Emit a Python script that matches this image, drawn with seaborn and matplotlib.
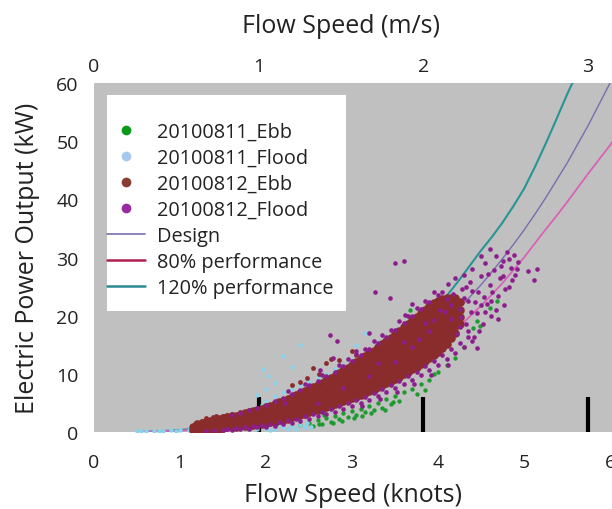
import matplotlib
matplotlib.use("Agg")
import matplotlib.pyplot as plt
from matplotlib.lines import Line2D
from matplotlib.patches import Rectangle
import pandas as pd
import seaborn as sns

sns.set_style("white")
plt.rcParams["font.family"] = ["Open Sans", "DejaVu Sans"]

# ---- measured points: flow speed (knots), electric power (kW) ----
ebb_0811 = [
    (2.40, 1.2), (2.50, 1.6), (2.55, 1.0), (2.60, 2.0), (2.65, 1.4), (2.70, 2.4),
    (2.75, 1.8), (2.80, 2.8), (2.85, 2.2), (2.90, 3.2), (2.95, 2.6), (3.00, 3.6),
    (3.05, 2.9), (3.10, 4.0), (3.15, 3.4), (3.20, 4.5), (3.25, 3.8), (3.30, 5.0),
    (3.35, 4.2), (3.40, 5.6), (3.45, 4.8), (3.50, 6.2), (3.55, 5.4), (3.60, 6.8),
    (3.70, 7.4), (3.75, 6.6), (3.80, 8.2), (3.90, 9.0), (4.00, 10.4), (4.10, 11.6),
    (4.20, 12.8), (4.30, 14.6), (4.41, 17.8), (4.45, 19.0), (4.49, 18.2), (4.60, 21.4),
    (4.69, 22.6), (3.67, 21.0), (3.30, 9.0), (3.60, 12.0), (2.90, 6.0), (2.62, 1.3),
    (2.78, 1.5), (3.02, 2.4), (3.22, 3.3), (3.85, 7.2), (3.95, 10.0), (2.68, 3.0),
    (2.88, 1.9), (3.12, 2.7), (3.38, 3.7), (3.48, 5.2),
]

flood_0811 = [
    (0.50, 0.1), (0.60, 0.15), (0.70, 0.2), (0.80, 0.2), (0.90, 0.3), (1.00, 0.3),
    (1.10, 0.4), (1.20, 0.3), (1.30, 0.5), (1.40, 0.4), (1.50, 0.6), (1.60, 0.5),
    (1.70, 0.7), (1.80, 0.6), (1.90, 0.5), (2.00, 0.7), (2.10, 0.6), (2.20, 0.9),
    (2.30, 1.0), (2.40, 1.2), (2.35, 0.6), (2.45, 0.9), (1.95, 1.0), (2.05, 0.4),
    (2.15, 1.3), (2.25, 0.5), (0.55, 0.2), (0.75, 0.1), (0.95, 0.2), (1.15, 0.2),
    (1.75, 3.4), (1.85, 4.0), (1.95, 4.7), (2.00, 5.4), (2.05, 4.4), (2.10, 6.2),
    (2.15, 5.0), (2.20, 6.8), (2.25, 5.6), (2.30, 7.4), (2.35, 6.2), (2.40, 8.0),
    (2.45, 6.8), (2.50, 8.8), (2.55, 7.4), (2.60, 9.4), (2.70, 10.0), (2.80, 10.8),
    (2.90, 11.6), (3.00, 12.4), (3.10, 13.2), (3.20, 14.0), (3.30, 15.4), (3.40, 16.4),
    (3.50, 17.6), (3.64, 19.0), (1.97, 10.8), (2.02, 9.6), (2.30, 11.2), (2.10, 8.4),
    (2.20, 13.0), (2.40, 15.0), (3.05, 15.0), (3.15, 17.0), (1.90, 6.4), (2.00, 7.4),
    (2.12, 3.2), (2.28, 2.6), (2.38, 2.0), (2.48, 1.6), (2.52, 0.8),
]

# dense core of the 20100812 ebb run: speed column -> power readings
ebb_0812_columns = [
    (1.15, [0.4, 0.9]), (1.20, [0.4, 0.9, 1.3]), (1.25, [0.5, 1.0, 1.5]),
    (1.30, [0.5, 1.1, 1.7]), (1.35, [0.5, 1.2, 1.9]), (1.40, [0.6, 1.3, 2.1]),
    (1.45, [0.6, 1.4, 2.2]), (1.50, [0.7, 1.5, 2.4]), (1.55, [0.8, 1.6, 2.5]),
    (1.60, [0.9, 1.7, 2.7]), (1.65, [0.9, 1.8, 2.8]), (1.70, [1.0, 1.9, 3.0]),
    (1.75, [1.0, 1.9, 2.6, 3.2]), (1.80, [1.1, 2.0, 2.8, 3.4]),
    (1.85, [1.2, 2.1, 2.9, 3.6]), (1.90, [1.3, 2.2, 3.0, 3.8]),
    (1.95, [1.4, 2.3, 3.2, 4.0]), (2.00, [1.5, 2.4, 3.4, 4.3]),
    (2.05, [1.7, 2.6, 3.6, 4.5]), (2.10, [1.8, 2.8, 3.8, 4.8]),
    (2.15, [2.0, 3.0, 4.0, 5.1]), (2.20, [2.1, 3.1, 4.2, 5.4]),
    (2.25, [2.3, 3.3, 4.4, 5.7]), (2.30, [2.5, 3.5, 4.7, 6.0]),
    (2.35, [2.7, 3.7, 4.8, 5.6, 6.3]), (2.40, [2.9, 3.9, 5.0, 5.9, 6.7]),
    (2.45, [3.1, 4.1, 5.2, 6.2, 7.0]), (2.50, [3.4, 4.4, 5.4, 6.4, 7.4]),
    (2.55, [3.6, 4.6, 5.7, 6.7, 7.7]), (2.60, [3.8, 4.8, 5.9, 7.0, 8.1]),
    (2.65, [4.0, 5.1, 6.2, 7.3, 8.4]), (2.70, [4.3, 5.3, 6.4, 7.6, 8.9]),
    (2.75, [4.5, 5.6, 6.7, 7.8, 8.6, 9.3]), (2.80, [4.8, 5.8, 6.9, 8.0, 8.9, 9.7]),
    (2.85, [5.0, 6.1, 7.2, 8.3, 9.3, 10.1]), (2.90, [5.3, 6.4, 7.5, 8.6, 9.6, 10.6]),
    (2.95, [5.5, 6.6, 7.8, 8.9, 10.0, 11.0]), (3.00, [5.8, 6.9, 8.1, 9.2, 10.4, 11.5]),
    (3.05, [6.1, 7.2, 8.4, 9.6, 10.8, 12.0]), (3.10, [6.4, 7.5, 8.7, 9.9, 11.2, 12.5]),
    (3.15, [6.7, 7.8, 9.0, 10.2, 11.4, 12.4, 13.0]),
    (3.20, [7.0, 8.1, 9.3, 10.5, 11.7, 12.8, 13.5]),
    (3.25, [7.3, 8.5, 9.7, 10.9, 12.0, 13.1, 14.0]),
    (3.30, [7.7, 8.9, 10.1, 11.3, 12.4, 13.6, 14.6]),
    (3.35, [8.0, 9.2, 10.4, 11.7, 12.9, 14.1, 15.1]),
    (3.40, [8.4, 9.6, 10.8, 12.1, 13.3, 14.5, 15.7]),
    (3.45, [8.7, 10.0, 11.2, 12.5, 13.8, 15.0, 16.2]),
    (3.50, [9.1, 10.3, 11.6, 12.9, 14.2, 15.5, 16.8]),
    (3.55, [9.5, 10.7, 12.0, 13.3, 14.6, 15.9, 16.7, 17.4]),
    (3.60, [9.9, 11.1, 12.4, 13.7, 15.0, 16.3, 17.2, 18.0]),
    (3.65, [10.3, 11.6, 12.8, 14.1, 15.4, 16.7, 17.7, 18.6]),
    (3.70, [10.8, 12.0, 13.3, 14.6, 15.9, 17.1, 18.2, 19.2]),
    (3.75, [11.2, 12.5, 13.8, 15.0, 16.3, 17.6, 18.7, 19.8]),
    (3.80, [11.7, 13.0, 14.3, 15.5, 16.8, 18.0, 19.2, 20.4]),
    (3.85, [12.2, 13.5, 14.8, 16.0, 17.3, 18.5, 19.8, 21.0]),
    (3.90, [12.7, 14.0, 15.3, 16.5, 17.8, 19.0, 20.3, 21.6]),
    (3.95, [13.3, 14.6, 15.8, 17.1, 18.3, 19.6, 20.9, 22.1]),
    (4.00, [13.8, 15.1, 16.3, 17.6, 18.8, 20.1, 21.4, 22.6]),
    (4.05, [14.5, 15.8, 17.0, 18.2, 19.4, 20.6, 21.8, 22.8]),
    (4.10, [15.2, 16.5, 17.7, 18.9, 20.1, 21.3, 22.3, 23.0]),
    (4.15, [16.1, 17.4, 18.6, 19.8, 21.0, 22.1, 23.1]),
    (4.20, [17.0, 18.3, 19.5, 20.7, 21.9, 23.0]),
    (4.25, [18.6, 19.8, 21.0, 22.3]),
]
# scattered ebb readings away from the core
ebb_0812_extra = [
    (1.30, 2.4), (1.50, 2.8), (2.55, 11.0), (2.70, 11.8), (2.85, 12.3), (3.05, 13.2),
    (2.30, 8.0), (1.25, 1.9), (1.60, 3.1), (1.42, 2.7), (2.48, 9.2), (2.62, 10.0),
    (1.38, 2.5), (1.55, 3.0), (1.70, 3.5), (2.40, 8.6), (2.75, 12.5), (3.00, 14.0),
]

flood_0812 = [
    # lower edge of the cloud
    (1.30, 0.2), (1.40, 0.3), (1.50, 0.3), (1.60, 0.4), (1.70, 0.5), (1.80, 0.6),
    (1.90, 0.8), (2.00, 0.9), (2.10, 1.1), (2.20, 1.3), (2.30, 1.6), (2.40, 1.9),
    (2.50, 2.3), (2.60, 2.7), (2.70, 3.1), (2.80, 3.5), (2.90, 4.0), (3.00, 4.5),
    (3.10, 5.0), (3.20, 5.5), (3.30, 6.2), (3.40, 6.8), (3.50, 7.5), (3.60, 8.2),
    (3.70, 9.0), (3.80, 9.8), (3.90, 10.6), (4.00, 11.6), (4.10, 12.6), (4.20, 13.6),
    (4.30, 14.6), (4.40, 15.6),
    (1.55, 0.6), (1.65, 0.7), (1.75, 0.8), (1.85, 1.0), (1.95, 1.2), (2.05, 1.4),
    (2.15, 1.7), (2.25, 2.0), (2.35, 2.3), (2.45, 2.7), (2.55, 3.1), (2.65, 3.5),
    (2.75, 4.0), (2.85, 4.5), (2.95, 5.0), (3.05, 5.5), (3.15, 6.0), (3.25, 6.7),
    (3.35, 7.4), (3.45, 8.1), (3.55, 8.8), (3.65, 9.6), (3.75, 10.4), (3.85, 11.3),
    (3.95, 12.2), (4.05, 13.2), (4.15, 14.3), (4.25, 15.3), (4.35, 16.3),
    (3.32, 5.6), (3.52, 6.9), (3.72, 8.3), (3.92, 9.8), (4.12, 11.6), (3.12, 4.4),
    # upper edge of the cloud
    (1.60, 3.0), (1.70, 3.3), (1.80, 3.7), (1.90, 4.2), (2.00, 4.7), (2.10, 5.3),
    (2.20, 5.9), (2.30, 6.6), (2.40, 7.3), (2.50, 8.0), (2.60, 8.8), (2.70, 9.6),
    (2.80, 10.4), (2.90, 11.3), (3.00, 12.2), (3.10, 13.2), (3.20, 14.2), (3.30, 15.3),
    (3.40, 16.4), (3.50, 17.6), (3.60, 18.8), (3.70, 20.0), (3.80, 21.2), (3.90, 22.4),
    (4.00, 23.5), (2.25, 7.0), (2.45, 8.2), (2.65, 9.8), (2.85, 11.6), (3.05, 13.4),
    (3.25, 15.6), (3.45, 17.6), (3.65, 20.0), (3.85, 22.6), (3.95, 24.0), (2.95, 12.6),
    (3.15, 14.2), (3.35, 16.6), (3.55, 19.0), (3.75, 21.4),
    # high-speed end
    (4.05, 24.0), (4.10, 22.8), (4.12, 25.4), (4.15, 19.4), (4.18, 23.8), (4.20, 26.4),
    (4.22, 16.8), (4.25, 21.2), (4.28, 24.6), (4.30, 27.0), (4.32, 18.6), (4.35, 22.6),
    (4.37, 25.8), (4.40, 28.0), (4.42, 16.4), (4.45, 20.4), (4.47, 24.0), (4.50, 26.8),
    (4.52, 18.6), (4.55, 29.0), (4.57, 22.0), (4.60, 25.2), (4.62, 20.0), (4.65, 27.8),
    (4.67, 30.2), (4.70, 23.4), (4.72, 26.4), (4.75, 29.4), (4.77, 21.8), (4.80, 31.0),
    (4.82, 25.0), (4.85, 28.2), (4.88, 30.4), (4.90, 27.0), (4.93, 29.2), (4.60, 31.4),
    (4.50, 30.2), (5.05, 27.6), (5.12, 26.2), (5.15, 28.0), (4.70, 19.4), (4.45, 14.4),
    (4.27, 19.8), (4.33, 25.0), (4.43, 22.4), (4.48, 17.4), (4.53, 23.2), (4.58, 27.2),
    (4.63, 24.0), (4.68, 21.0), (4.73, 28.6), (4.78, 24.6), (4.83, 29.8), (4.86, 26.2),
    (4.15, 21.8), (4.08, 20.6), (4.38, 20.6), (4.55, 20.6), (4.25, 18.0), (4.35, 17.4),
    (4.40, 24.2), (4.50, 21.8), (4.62, 22.6), (4.75, 26.8), (4.92, 28.0), (4.30, 23.0),
    # inside and above the core
    (2.60, 5.0), (2.90, 7.6), (3.20, 9.6), (3.50, 12.0), (3.70, 14.6), (3.90, 17.4),
    (3.30, 11.8), (3.60, 15.4), (3.85, 18.8), (4.02, 21.0), (3.95, 19.2), (3.78, 16.0),
    (2.22, 5.0), (2.63, 10.6), (2.78, 12.8), (2.82, 15.6), (2.74, 16.6), (3.05, 14.0),
    (3.27, 24.0), (3.44, 23.0), (3.50, 29.0), (3.60, 29.4), (3.20, 17.0), (3.70, 22.0),
    (3.62, 20.2),
]

# ---- turbine power curves (knots, kW) ----
curve_speed = [0.5, 0.75, 1.0, 1.25, 1.5, 1.75, 2.0, 2.25, 2.5, 2.75, 3.0, 3.25,
               3.5, 3.75, 4.0, 4.25, 4.5, 4.625, 4.75, 4.875, 5.0, 5.125, 5.25,
               5.375, 5.5, 5.625, 5.75, 5.875, 6.0, 6.1]
design_kw = [0.0, 0.1, 0.28, 0.54, 0.94, 1.5, 2.2, 3.2, 4.3, 5.8, 7.5, 9.5,
             11.9, 14.7, 17.8, 21.3, 25.3, 27.5, 29.8, 32.2, 34.7, 37.4, 40.2,
             43.2, 46.2, 49.5, 52.8, 56.4, 60.0, 63.0]
perf80_kw = [0.0, 0.08, 0.22, 0.43, 0.75, 1.2, 1.8, 2.6, 3.5, 4.7, 6.2, 8.0,
             10.1, 12.5, 15.1, 18.2, 21.7, 23.6, 25.6, 27.8, 30.0, 32.4, 34.8,
             37.1, 39.5, 42.0, 44.5, 46.9, 49.3, 51.5]
perf120_kw = [0.0, 0.12, 0.34, 0.65, 1.13, 1.8, 2.7, 3.8, 5.2, 7.0, 9.0, 11.4,
              14.3, 17.6, 21.5, 26.2, 31.2, 33.5, 36.0, 38.8, 41.8, 45.5, 49.5,
              53.7, 58.0, 62.0, 66.0, 70.0, 74.0, 77.5]

series_names = ["20100811_Ebb", "20100811_Flood", "20100812_Ebb", "20100812_Flood"]
series_colors = ["#1f9a2e", "#8ad2ea", "#8b2c2c", "#8c1e8c"]
legend_marker_colors = ["#0a9a1a", "#a6c8ee", "#8a3b32", "#9a2aa0"]

KNOTS_PER_MS = 1.915

ebb_0812_core = [(v, p) for v, ps in ebb_0812_columns for p in ps]

fig = plt.figure(figsize=(6.12, 5.10), dpi=100)
ax = fig.add_axes([94 / 612, 77 / 510, 518 / 612, 349 / 510])
ax.set_facecolor("#c0c0c0")
for s in ax.spines.values():
    s.set_visible(False)

# power curves sit under the point clouds
curves = pd.DataFrame({"knots": curve_speed, "design": design_kw,
                       "p80": perf80_kw, "p120": perf120_kw})
sns.lineplot(data=curves, x="knots", y="p120", ax=ax, color="#2a9494", lw=1.5,
             estimator=None, sort=False, zorder=2)
sns.lineplot(data=curves, x="knots", y="design", ax=ax, color="#7a6cb0", lw=1.0,
             estimator=None, sort=False, zorder=2)
sns.lineplot(data=curves, x="knots", y="p80", ax=ax, color="#d862b8", lw=1.3,
             estimator=None, sort=False, zorder=2)

# scatter clouds
layers = [(ebb_0811, series_colors[0], 10), (flood_0811, series_colors[1], 10),
          (ebb_0812_core, series_colors[2], 38), (ebb_0812_extra, series_colors[2], 12),
          (flood_0812, series_colors[3], 11)]
for pts, col, size in layers:
    df = pd.DataFrame(pts, columns=["knots", "kw"])
    sns.scatterplot(data=df, x="knots", y="kw", ax=ax, color=col, s=size,
                    linewidth=0, zorder=3)

ax.set_xlim(0, 518 / 86)
ax.set_ylim(0, 60)

# ticks and grid
ax.set_xticks(range(0, 7))
ax.set_xticks(range(1, 6), minor=True)
ax.set_yticks(range(0, 70, 10))
ax.set_yticks(range(0, 60, 10), minor=True)
ax.set_axisbelow(True)
ax.grid(False)
ax.grid(which="minor", color="#4d4d4d", lw=1.1)
ax.tick_params(which="both", length=0)
ax.tick_params(axis="x", labelsize=14, pad=15, colors="#222222")
ax.tick_params(axis="y", labelsize=14, pad=11, colors="#222222")
ax.set_xlabel("Flow Speed (knots)", fontsize=18, labelpad=8, color="#222222")
ax.set_ylabel("Electric Power Output (kW)", fontsize=18, color="#222222")
ax.yaxis.set_label_coords((40 - 94) / 518, 0.5)

# m/s scale on top with heavy in-pointing marks, repeated at the bottom
to_ms = (lambda k: k / KNOTS_PER_MS, lambda m: m * KNOTS_PER_MS)
top = ax.secondary_xaxis("top", functions=to_ms)
top.set_xticks([0, 1, 2, 3])
top.set_xticks([1, 2, 3], minor=True)
top.tick_params(which="major", length=0, labelsize=14, pad=6, colors="#222222")
top.tick_params(which="minor", direction="in", length=25, width=3, color="black")
top.set_xlabel("Flow Speed (m/s)", fontsize=18, labelpad=18, color="#222222",
               x=(341 - 94) / 518)
for s in top.spines.values():
    s.set_visible(False)

bottom = ax.secondary_xaxis("bottom", functions=to_ms)
bottom.set_xticks([])
bottom.set_xticks([1, 2, 3], minor=True)
bottom.tick_params(which="minor", direction="in", length=25, width=3, color="black",
                   labelbottom=False)
for s in bottom.spines.values():
    s.set_visible(False)

# legend panel
ax.add_patch(Rectangle((13 / 518, (433 - 312) / 349), (346 - 107) / 518, (312 - 96) / 349,
                       transform=ax.transAxes, facecolor="white", edgecolor="none",
                       zorder=5))
handles = [Line2D([], [], ls="none", marker="o", ms=7, mec="none", mfc=c)
           for c in legend_marker_colors]
handles += [Line2D([], [], color="#7a6cb0", lw=1.2),
            Line2D([], [], color="#b0204e", lw=1.8),
            Line2D([], [], color="#2a8a94", lw=1.8)]
labels = series_names + ["Design", "80% performance", "120% performance"]
leg = ax.legend(handles, labels, loc="upper left",
                bbox_to_anchor=(13 / 518, (433 - 123) / 349), borderaxespad=0,
                borderpad=0, frameon=False, fontsize=14.3, handlelength=1.9,
                handletextpad=0.6, labelspacing=0.3)
leg.set_zorder(6)
for t in leg.get_texts():
    t.set_color("#222222")

fig.savefig("out.png", dpi=100)
